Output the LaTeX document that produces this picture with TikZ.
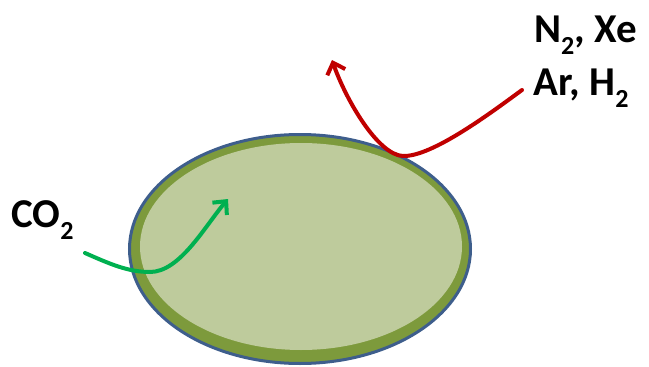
\documentclass[tikz,border=0pt]{standalone}
\usepackage{fontspec}
\setmainfont{Carlito}
\usetikzlibrary{arrows.meta}
\definecolor{cellblue}{HTML}{3E5E8C}
\definecolor{cellband}{HTML}{7D9A3C}
\definecolor{cellfill}{HTML}{BECB9C}
\definecolor{gasred}{HTML}{C00000}
\definecolor{gasgreen}{HTML}{00B050}
\newcommand{\mysub}[1]{{\fontsize{26}{26}\selectfont\raisebox{-12pt}{#1}}}
\tikzset{
  lbl/.style={anchor=base west, inner sep=0pt, font=\fontsize{41}{41}\selectfont\bfseries, text=black},
  gasarrow/.style={line width=4pt, line cap=round, -{Straight Barb[length=10pt,width=19pt,line width=4pt]}}
}
\begin{document}
\begin{tikzpicture}[x=1pt,y=-1pt]
\useasboundingbox (0,0) rectangle (649,367);
% cell
\fill[cellband, draw=cellblue, line width=3pt] (300,249) ellipse [x radius=170.5, y radius=114.5];
\fill[cellfill] (301,246.5) ellipse [x radius=161, y radius=103.5];
% labels
\node[lbl] (co2) at (11,227) {CO\mysub{2}};
\node[lbl] (gas1) at (534,42) {N\mysub{2}, Xe};
\node[lbl] (gas2) at (533,95) {Ar, H\mysub{2}};
% arrows
\coordinate (gin) at (85,253);
\coordinate (gintip) at (228,199);
\coordinate (gout) at (522,90);
\coordinate (gouttip) at (332,60);
\draw[gasarrow, gasgreen] (gin) .. controls (110,264) and (128,272) .. (150,272)
  .. controls (180,272) and (205,226) .. (gintip);
\draw[gasarrow, gasred] (gout) .. controls (492,112) and (432,157) .. (403,156)
  .. controls (378,155) and (346,100) .. (gouttip);
\end{tikzpicture}
\end{document}
